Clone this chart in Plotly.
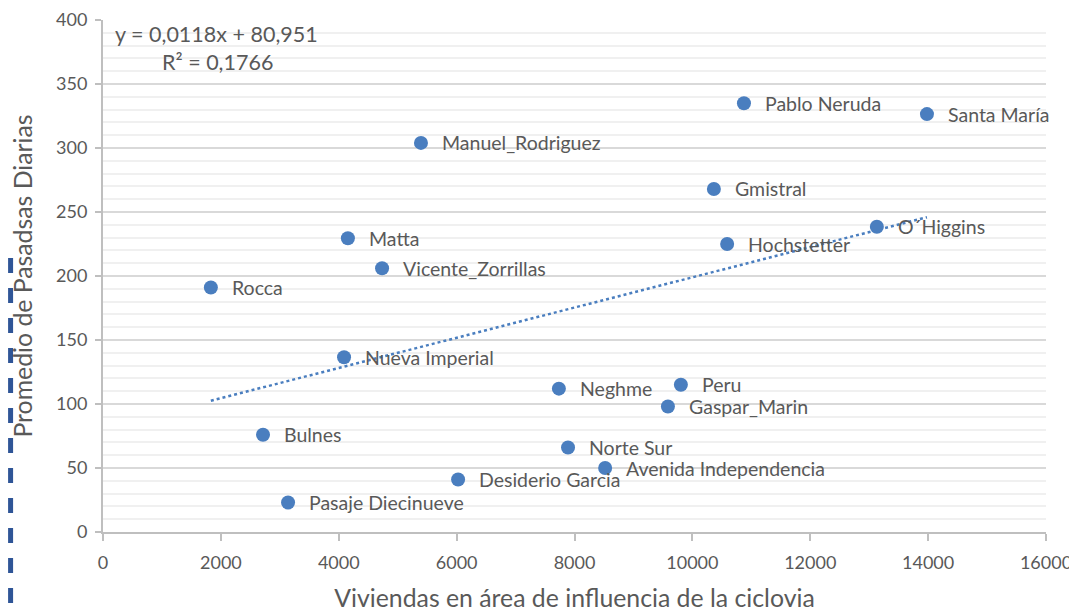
import plotly.graph_objects as go

names = ["Rocca", "Bulnes", "Pasaje Diecinueve", "Nueva Imperial", "Matta",
         "Vicente_Zorrillas", "Manuel_Rodriguez", "Desiderio Garcia", "Neghme",
         "Norte Sur", "Avenida Independencia", "Gaspar_Marin", "Peru", "Gmistral",
         "Hochstetter", "Pablo Neruda", "O´Higgins", "Santa María"]
viviendas = [1830, 2715, 3140, 4090, 4155, 4735, 5395, 6025, 7735,
             7890, 8520, 9585, 9805, 10365, 10590, 10875, 13130, 13980]
pasadas = [191, 76, 23, 136.5, 229.5, 206, 304, 41, 112,
           66, 50, 98, 115, 268, 225, 335, 238.5, 326.5]

slope = 0.0118
intercept = 80.951
eq_text = "y = 0,0118x + 80,951"
r2_text = "R² = 0,1766"

x_ticks = [0, 2000, 4000, 6000, 8000, 10000, 12000, 14000, 16000]
x_ticktext = ["0", "2000", "4000", "6000", "8000", "10000", "12000", "14000", "16000"]
y_ticks = [0, 50, 100, 150, 200, 250, 300, 350, 400]

blue = "#4A7EBF"
gray_text = "#595959"
font_family = "Lato, Calibri, Carlito, sans-serif"

fig = go.Figure()

xmin, xmax = min(viviendas), max(viviendas)
fig.add_trace(go.Scatter(
    x=[xmin, xmax], y=[slope * xmin + intercept, slope * xmax + intercept],
    mode="lines", line=dict(color=blue, width=2.5, dash="dot"),
    hoverinfo="skip", showlegend=False))

fig.add_trace(go.Scatter(
    x=viviendas, y=pasadas, mode="markers",
    marker=dict(color=blue, size=14, line=dict(width=0)),
    text=names, showlegend=False))

for n, xv, yv in zip(names, viviendas, pasadas):
    fig.add_annotation(x=xv, y=yv, text=n, showarrow=False, xanchor="left",
                       yanchor="middle", xshift=19,
                       font=dict(family=font_family, size=19.5, color=gray_text))

fig.add_annotation(x=0.0106, y=1.0, xref="paper", yref="paper", text=eq_text,
                   showarrow=False, xanchor="left", yanchor="middle", yshift=-14,
                   font=dict(family=font_family, size=21.5, color=gray_text))
fig.add_annotation(x=0.06, y=1.0, xref="paper", yref="paper", text=r2_text,
                   showarrow=False, xanchor="left", yanchor="middle", yshift=-42,
                   font=dict(family=font_family, size=21.5, color=gray_text))

# decorative dashed border at left edge
fig.add_shape(type="line", xref="paper", yref="paper",
              x0=-0.098, x1=-0.098, y0=0.535, y1=-0.16,
              line=dict(color="#2F5597", width=5, dash="dash"))

fig.update_layout(
    width=1069, height=604,
    margin=dict(l=95, r=31, t=12, b=80, autoexpand=False),
    paper_bgcolor="white", plot_bgcolor="white",
    font=dict(family=font_family, color=gray_text),
    xaxis=dict(
        range=[0, 16000], tickvals=x_ticks, ticktext=x_ticktext,
        showgrid=False, zeroline=False, automargin=False,
        showline=True, linecolor="#BFBFBF", linewidth=2,
        ticks="outside", ticklen=7, tickcolor="#BFBFBF", tickwidth=2,
        tickfont=dict(size=18, color=gray_text), ticklabelstandoff=6,
        title=dict(text="Viviendas en área de influencia de la ciclovia",
                   font=dict(size=24.8, color=gray_text), standoff=19),
    ),
    yaxis=dict(
        range=[0, 400], tickvals=y_ticks, showgrid=True, gridcolor="#D9D9D9",
        gridwidth=2, zeroline=False, automargin=False,
        showline=True, linecolor="#BFBFBF", linewidth=2,
        ticks="outside", ticklen=6, tickcolor="#BFBFBF", tickwidth=2,
        tickfont=dict(size=18, color=gray_text), ticklabelstandoff=4,
        minor=dict(dtick=10, showgrid=True, gridcolor="#F0F0F0", gridwidth=2, ticks=""),
        title=dict(text="Promedio de Pasadsas Diarias",
                   font=dict(size=24.8, color=gray_text), standoff=22),
    ),
)

fig.write_html("out.html")
